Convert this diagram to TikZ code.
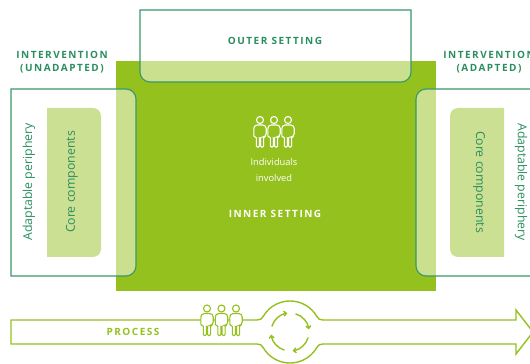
\documentclass[tikz,border=0pt]{standalone}
\usepackage{fontspec}
\setmainfont{Open Sans}
\newfontfamily\spacedfont[LetterSpace=15]{Open Sans}
\usepackage{tikz}
\usetikzlibrary{arrows.meta}

\definecolor{innergreen}{HTML}{95C11F}
\definecolor{palegreen}{HTML}{CCE093}
\definecolor{tealgreen}{HTML}{35996A}
\definecolor{tealtext}{HTML}{2A8E5E}

% one person: head centre at (#1,#2), outline colour #3, fill #4
\newcommand{\personicon}[4]{%
\begin{scope}[shift={(#1,#2)}]
\draw[icon,draw=#3,fill=#4] (0,0) circle[radius=3.5];
\draw[icon,draw=#3,fill=#4,rounded corners=1pt] (-3.6,-17) -- (-6.2,-17)
  [rounded corners=3.5pt] -- (-6.2,-5) -- (6.2,-5) -- (6.2,-17)
  [rounded corners=1pt] -- (3.6,-17) -- (3.6,-27) -- (0.6,-27) -- (0.6,-18)
  -- (-0.6,-18) -- (-0.6,-27) -- (-3.6,-27) -- cycle;
\end{scope}}

\begin{document}
\begin{tikzpicture}[x=1pt,y=1pt]
\tikzstyle{box}=[draw=tealgreen,line width=1.1pt,fill=white,fill opacity=0.5,draw opacity=1]
\tikzstyle{core}=[fill=palegreen]
\tikzstyle{heading}=[font=\spacedfont\bfseries\fontsize{10}{13}\selectfont,text=tealtext,align=center]
\tikzstyle{side}=[font=\fontsize{12.3}{14}\selectfont,text=tealtext]
\tikzstyle{icon}=[line width=1.1pt]
\tikzstyle{proc}=[draw=innergreen,line width=1.4pt]
\tikzstyle{turn}=[draw=innergreen,line width=1.4pt,-{Straight Barb[length=2.5pt,width=5pt]}]
\clip (0,0) rectangle (530,364);

% inner setting
\fill[innergreen] (116,73) rectangle (436,303);

% outer setting
\draw[box] (140,354) -- (411,354) -- (411,292) arc[start angle=0,end angle=-90,radius=10]
  -- (150,282) arc[start angle=270,end angle=180,radius=10] -- cycle;

% interventions
\draw[box] (11,88) -- (11,275) -- (126,275) arc[start angle=90,end angle=0,radius=10]
  -- (136,98) arc[start angle=0,end angle=-90,radius=10] -- cycle;
\draw[box] (545,275) -- (426,275) arc[start angle=90,end angle=180,radius=10]
  -- (416,98) arc[start angle=180,end angle=270,radius=10] -- (545,88);
\fill[core] (47,107) -- (47,256) -- (93,256) arc[start angle=90,end angle=0,radius=8]
  -- (101,115) arc[start angle=0,end angle=-90,radius=8] -- cycle;
\fill[core] (504,256) -- (458,256) arc[start angle=90,end angle=180,radius=8]
  -- (450,115) arc[start angle=180,end angle=270,radius=8] -- (504,107) -- cycle;

\node[heading] (unadapted) at (62,301.5) {INTERVENTION\\(UNADAPTED)};
\node[heading] (adapted) at (489,301.5) {INTERVENTION\\(ADAPTED)};
\node[heading] (outer) at (275,323) {OUTER SETTING};
\node[heading,text=white] (inner) at (275,150) {INNER SETTING};

\node[side,rotate=90] (periphL) at (29,182) {Adaptable periphery};
\node[side,rotate=90] (coreL) at (72,182) {Core components};
\node[side,rotate=-90] (coreR) at (479,182) {Core components};
\node[side,rotate=-90] (periphR) at (521,182) {Adaptable periphery};

% individuals
\personicon{260}{244}{white}{innergreen}
\personicon{274}{244}{white}{innergreen}
\personicon{288}{244}{white}{innergreen}
\node[font=\fontsize{9.3}{16}\selectfont,text=white,align=center] (individuals) at (274,194) {Individuals\\involved};

% process
\draw[proc,fill=white] (11,44) -- (257,44) .. controls (260,44) and (261.7,44.9) .. (263.2,47.5)
  arc[start angle=150,end angle=30,radius=31] .. controls (318.3,44.9) and (320,44) .. (323,44)
  -- (516,44) -- (516,54) -- (533,32) -- (516,10) -- (516,20) -- (323,20)
  .. controls (320,20) and (318.3,19.1) .. (316.8,16.5)
  arc[start angle=-30,end angle=-150,radius=31] .. controls (261.7,19.1) and (260,20) .. (257,20)
  -- (11,20) -- cycle;
\node[heading,text=innergreen] (process) at (133,32) {PROCESS};
\personicon{207}{55.5}{innergreen}{white}
\personicon{221.5}{55.5}{innergreen}{white}
\personicon{236}{55.5}{innergreen}{white}
\draw[turn] (290,32) ++(163:19) arc[start angle=163,end angle=98,radius=19];
\draw[turn] (290,32) ++(73:19) arc[start angle=73,end angle=8,radius=19];
\draw[turn] (290,32) ++(-17:19) arc[start angle=-17,end angle=-82,radius=19];
\draw[turn] (290,32) ++(-107:19) arc[start angle=-107,end angle=-172,radius=19];
\end{tikzpicture}
\end{document}
